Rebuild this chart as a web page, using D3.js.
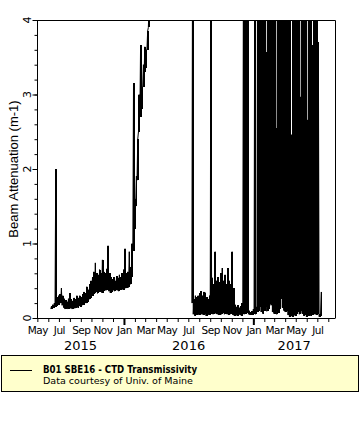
<!DOCTYPE html>
<html lang="en">
<head>
<meta charset="utf-8">
<title>B01 SBE16 beam attenuation</title>
<script src="https://d3js.org/d3.v7.min.js"></script>
<style>
body { margin: 0; background: #fff; }
.axis path, .axis line { stroke: #000; }
.month-label { font-family: "DejaVu Sans", sans-serif; font-size: 10.5px; letter-spacing: -0.5px; fill: #000; }
.year-label { font-family: "DejaVu Sans", sans-serif; font-size: 13px; fill: #000; }
.y-label { font-family: "DejaVu Sans", sans-serif; font-size: 11px; fill: #000; }
.y-title { font-family: "Liberation Sans", Arial, sans-serif; font-size: 13px; fill: #000; }
.legend-title { font-family: "DejaVu Sans", sans-serif; font-size: 10px; font-weight: bold; }
.legend-sub { font-family: "DejaVu Sans", sans-serif; font-size: 9px; }
</style>
</head>
<body>
<div id="container"></div>
<script>
// readings are binned every 4 days: low value at bin start, high value 2 days later
var binDays = 4;

var dep1Start = "2015-06-08";
var dep1Lo = [.12,.13,.14,.15,.16,.18,.20,.20,.17,.14,
              .12,.13,.12,.14,.13,.12,.14,.13,.15,.14,
              .16,.15,.17,.18,.20,.20,.22,.25,.27,.30,
              .32,.33,.35,.33,.35,.36,.34,.36,.38,.37,
              .38,.36,.34,.35,.37,.36,.38,.37,.36,.38,
              .39,.38,.40,.40,.42,.41,.45,.55,.90,1.2,
              1.5,1.85,2.5,2.7,2.8,3.1,3.3,3.35,3.6,3.9,4.2];
var dep1Hi = [.16,.18,.20,2.0,.28,.30,.32,.40,.30,.26,
              .24,.22,.26,.33,.25,.23,.27,.25,.30,.27,
              .30,.28,.32,.35,.33,.42,.38,.45,.50,.55,
              .62,.74,.60,.58,.65,.60,.78,.62,.60,.66,
              .97,.60,.55,.52,.55,.50,.56,.54,.58,.55,
              .60,.65,.93,.60,.62,.89,.68,1.0,3.15,1.6,
              1.9,2.4,3.0,3.66,3.1,3.4,3.64,3.6,3.85,4.2,4.6];

var dep2Start = "2016-07-11";
var dep2Lo = [.20,.05,.03,.04,.05,.04,.06,.05,.04,.06,.03,.05,.04,.05,
              .06,.05,.07,.06,.05,.04,.06,.05,.07,.05,.06,.05,.04,.05,.06,.04,
              .03,.04,.03,.05,.04,.03,.06,.05,.06,.07,.05,.04,.05,.04,
              .06,.05,.08,.10,.15,.08,.06,.10,.15,.09,.12,.19,.17,.08,.06,.09,
              .05,.07,.12,.26,.14,.10,.08,.10,.04,.02,.03,.02,.04,.03,.06,.08,
              .05,.09,.06,.03,.04,.02,.03,.05,.03,.04,.06,.05,.04,.05,
              .02,.03];
var dep2Hi = [5,.25,.30,.28,.30,.33,.36,.30,.35,.34,.28,.25,.30,5,
              .54,.45,.89,.50,.55,.48,.60,.67,.50,.58,.45,.67,.50,.45,.89,.40,
              .18,.15,.17,.14,.16,.20,5,5,5,5,.10,.08,.09,.12,
              5,.15,5,5,5,5,5,5,3.57,5,5,5,5,5,5,2.55,
              5,5,5,5,5,5,5,5,5,5,2.46,5,5,5,5,5,
              2.97,5,5,5,5,2.66,5,5,5,3.66,5,5,5,3.7,
              .05,.35];

var yTicks = [0, 1, 2, 3, 4];
var labelMonths = ["Jan", "Mar", "May", "Jul", "Sep", "Nov"];
var yearLabels = ["2015", "2016", "2017"];
var seriesName = "B01 SBE16 -  CTD Transmissivity";
var creditText = "Data courtesy of Univ. of Maine";

var w = 360, h = 440;
var mLeft = 37, mRight = 335, mTop = 20, mBottom = 318;

var svg = d3.select("#container").append("svg")
    .attr("width", w).attr("height", h)
    .style("display", "block");

var parse = d3.timeParse("%Y-%m-%d");
var x = d3.scaleTime()
    .domain([parse("2015-04-30"), parse("2017-08-20")])
    .range([mLeft, mRight]);
var y = d3.scaleLinear().domain([0, 4]).range([mBottom, mTop]);

function bins(start, lo, hi) {
    var t0 = parse(start);
    return lo.map(function(v, i) {
        return { t: d3.timeDay.offset(t0, i * binDays), lo: v, hi: hi[i] };
    });
}
function points(b) {
    var pts = [];
    b.forEach(function(d) {
        pts.push([d.t, d.lo]);
        pts.push([d3.timeDay.offset(d.t, binDays / 2), d.hi]);
    });
    return pts;
}

svg.append("clipPath").attr("id", "plot")
  .append("rect").attr("x", mLeft).attr("y", mTop)
    .attr("width", mRight - mLeft).attr("height", mBottom - mTop);

var line = d3.line()
    .x(function(d) { return x(d[0]); })
    .y(function(d) { return y(d[1]); });

var deps = [bins(dep1Start, dep1Lo, dep1Hi), bins(dep2Start, dep2Lo, dep2Hi)];
var plot = svg.append("g").attr("clip-path", "url(#plot)");

// the sampled trace swings between lo and hi inside each bin: fill that range
deps.forEach(function(b) {
    plot.append("g").attr("shape-rendering", "crispEdges")
      .selectAll("rect").data(b).enter()
      .append("rect")
        .attr("x", function(d) { return x(d.t); })
        .attr("width", function(d) { return x(d3.timeDay.offset(d.t, binDays)) - x(d.t) + 0.4; })
        .attr("y", function(d) { return Math.max(y(d.hi), mTop - 2); })
        .attr("height", function(d) { return y(d.lo) - Math.max(y(d.hi), mTop - 2); })
        .attr("fill", "#000");
});

plot.selectAll("path").data(deps).enter()
  .append("path")
    .attr("d", function(b) { return line(points(b)); })
    .attr("fill", "none")
    .attr("stroke", "#000")
    .attr("stroke-width", 1);

// frame: top and right
svg.append("path")
    .attr("d", "M" + mLeft + "," + (mTop + 0.5) + "H" + (mRight + 0.5) + "V" + mBottom)
    .attr("fill", "none").attr("stroke", "#000");

// x axis: month ticks, longer heavy ticks at new year
var fmt = d3.timeFormat("%b");
var xAxis = svg.append("g").attr("class", "axis")
    .attr("transform", "translate(0," + mBottom + ")")
    .call(d3.axisBottom(x).ticks(d3.timeMonth.every(1)).tickSize(4).tickPadding(5)
        .tickFormat(function(d) { return labelMonths.indexOf(fmt(d)) >= 0 ? fmt(d) : ""; }));
xAxis.select(".domain").attr("d", "M" + mLeft + ",0.5H" + (mRight + 0.5));
xAxis.selectAll("text").attr("class", "month-label").attr("font-family", null).attr("font-size", null);

var xMajor = svg.append("g").attr("class", "axis")
    .attr("transform", "translate(0," + mBottom + ")")
    .call(d3.axisBottom(x).ticks(d3.timeYear.every(1)).tickSize(7).tickFormat(""));
xMajor.select(".domain").remove();
xMajor.selectAll("line").attr("stroke-width", 2);

// year labels centred on the visible part of each year
yearLabels.forEach(function(yr) {
    var a = d3.max([parse(yr + "-01-01"), x.domain()[0]]);
    var b = d3.min([parse((+yr + 1) + "-01-01"), x.domain()[1]]);
    svg.append("text").attr("class", "year-label")
        .attr("x", (x(a) + x(b)) / 2).attr("y", 350)
        .attr("text-anchor", "middle").text(yr);
});

// y axis: majors with rotated labels, minors every 0.2
var yMinor = svg.append("g").attr("class", "axis")
    .attr("transform", "translate(" + (mLeft + 0.5) + ",0)")
    .call(d3.axisLeft(y).tickValues(d3.range(0, 4.01, 0.2)).tickSize(3).tickFormat(""));
yMinor.select(".domain").attr("d", "M0," + mTop + "V" + mBottom);
svg.append("g").attr("class", "axis")
    .attr("transform", "translate(" + (mLeft + 0.5) + ",0)")
    .call(d3.axisLeft(y).tickValues(yTicks).tickSize(5).tickFormat(""))
    .select(".domain").remove();

svg.selectAll(".ylab").data(yTicks).enter()
  .append("text").attr("class", "y-label")
    .attr("transform", function(d) { return "translate(31," + y(d) + ") rotate(-90)"; })
    .attr("text-anchor", "middle")
    .text(function(d) { return d; });

svg.append("text").attr("class", "y-title")
    .attr("transform", "translate(18," + ((mTop + mBottom) / 2) + ") rotate(-90)")
    .attr("text-anchor", "middle")
    .text("Beam Attenuation (m-1)");

// legend
svg.append("rect")
    .attr("x", 1.5).attr("y", 355.5).attr("width", 357).attr("height", 36)
    .attr("fill", "#ffffcc").attr("stroke", "#000");
svg.append("line")
    .attr("x1", 10).attr("x2", 32).attr("y1", 370.5).attr("y2", 370.5)
    .attr("stroke", "#000");
svg.append("text").attr("class", "legend-title")
    .attr("x", 43).attr("y", 373)
    .attr("textLength", 154).attr("lengthAdjust", "spacingAndGlyphs")
    .text(seriesName);
svg.append("text").attr("class", "legend-sub")
    .attr("x", 43).attr("y", 384)
    .attr("textLength", 150).attr("lengthAdjust", "spacingAndGlyphs")
    .text(creditText);
</script>
</body>
</html>
